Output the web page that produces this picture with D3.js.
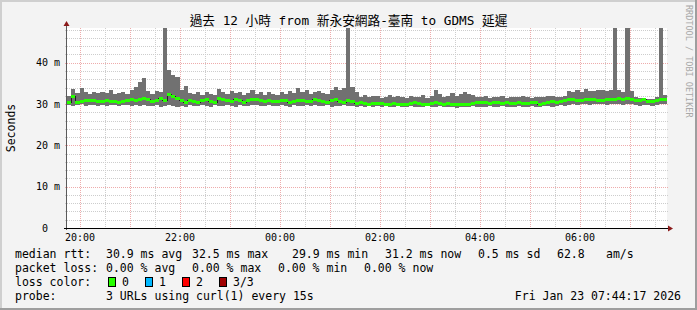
<!DOCTYPE html>
<html>
<head>
<meta charset="utf-8">
<script src="https://cdn.jsdelivr.net/npm/d3@7"></script>
<style>
body { margin: 0; background: #fff; }
svg text { font-family: "DejaVu Sans Mono", "Noto Sans CJK TC", monospace; white-space: pre; }
</style>
</head>
<body>
<div id="chart"></div>
<script>
// ---- data ----
var titleText = "過去 12 小時 from 新永安網路-臺南 to GDMS 延遲";
var yLabel = "Seconds";
var sideText = "RRDTOOL / TOBI OETIKER";
var endTime = new Date(2026, 0, 23, 7, 44, 17);
var stepMinutes = 5;

// median rtt per 5 min step (ms)
var medianMs = [
  30.6, 32.0, 30.4, 30.8, 30.9, 31.0, 30.9, 30.8, 30.8, 30.9, 30.7, 30.7,
  30.6, 30.8, 31.0, 31.1, 30.9, 31.3, 31.5, 31.2, 30.8, 30.9, 31.4, 31.0,
  32.5, 31.9, 31.4, 30.9, 30.6, 31.0, 30.8, 30.5, 30.9, 31.1, 30.7, 30.6,
  31.4, 31.2, 31.0, 30.8, 31.1, 30.9, 30.6, 30.9, 31.2, 31.3, 31.0, 30.8,
  30.9, 30.7, 30.8, 31.0, 30.9, 30.6, 30.8, 30.9, 31.0, 30.7, 30.8, 31.2,
  31.0, 30.8, 30.6, 30.9, 31.1, 30.8, 30.6, 30.9, 30.7, 30.3, 30.4, 30.2,
  30.1, 30.3, 30.2, 30.3, 30.1, 30.0, 30.2, 30.1, 30.0, 30.1, 30.2, 30.4,
  30.3, 30.1, 30.0, 30.2, 30.4, 30.3, 30.1, 30.2, 30.1, 30.0, 29.9, 29.9,
  30.1, 30.3, 30.6, 30.4, 30.5, 30.2, 30.4, 30.5, 30.3, 30.4, 30.2, 30.3,
  30.5, 30.3, 30.2, 30.5, 30.4, 30.1, 30.3, 30.5, 30.7, 30.6, 30.8, 30.9,
  31.1, 31.2, 30.9, 31.0, 31.2, 31.1, 31.3, 30.9, 31.0, 31.2, 31.3, 31.2,
  31.4, 31.3, 31.5, 31.2, 30.9, 31.0, 31.1, 30.8, 30.7, 30.9, 31.1, 31.2
];
// smoke top (ms)
var maxMs = [
  32.0, 33.6, 32.6, 33.8, 32.9, 32.5, 33.0, 32.6, 32.8, 32.7, 33.3, 32.5,
  32.6, 33.0, 32.4, 33.5, 34.1, 35.4, 36.3, 33.2, 32.5, 33.1, 32.8, 49.0,
  38.3, 37.0, 36.5, 33.4, 34.4, 32.6, 32.4, 33.0, 32.3, 32.9, 32.5, 32.2,
  33.6, 32.8, 32.4, 33.2, 32.6, 33.0, 32.1, 32.7, 33.3, 32.4, 32.8, 32.3,
  32.9, 32.5, 32.2, 32.8, 32.4, 33.1, 32.6, 33.9, 32.8, 33.4, 32.5, 33.0,
  33.2, 32.7, 32.4, 33.5, 34.1, 33.4, 33.8, 49.0, 34.1, 33.0, 31.8, 32.2,
  31.7, 31.9, 32.0, 31.5, 31.8, 32.1, 31.6, 31.9, 31.7, 31.5, 32.0, 31.8,
  31.6, 32.2, 31.5, 31.9, 33.4, 32.5, 31.8, 32.0, 32.7, 31.9, 32.4, 32.8,
  32.4, 32.2, 31.8, 31.6, 31.9, 31.5, 31.8, 31.7, 32.0, 31.5, 31.6, 31.8,
  31.7, 31.9, 31.6, 31.5, 31.8, 31.7, 31.6, 31.9, 32.0, 31.7, 31.8, 32.0,
  33.2, 33.0, 33.4, 32.9, 33.6, 33.2, 33.1, 33.5, 33.3, 33.2, 33.4, 49.0,
  33.3, 33.0, 49.0, 33.2, 31.6, 31.4, 31.5, 31.2, 31.3, 31.6, 49.0, 32.2
];
// smoke bottom (ms)
var minMs = [
  29.8, 29.6, 29.7, 29.9, 29.6, 29.8, 29.7, 29.5, 29.8, 29.6, 29.7, 29.8,
  29.6, 29.7, 29.8, 29.5, 29.7, 29.6, 29.8, 29.5, 29.6, 29.7, 29.4, 29.6,
  29.7, 29.5, 29.3, 29.6, 29.4, 29.7, 29.5, 29.6, 29.8, 29.5, 29.4, 29.7,
  29.6, 29.5, 29.8, 29.6, 29.4, 29.7, 29.5, 29.6, 29.8, 29.7, 29.5, 29.6,
  29.7, 29.5, 29.6, 29.8, 29.6, 29.4, 29.7, 29.5, 29.6, 29.7, 29.5, 29.8,
  29.6, 29.5, 29.7, 29.4, 29.6, 29.5, 29.7, 29.6, 29.5, 29.4, 29.5, 29.3,
  29.5, 29.4, 29.6, 29.3, 29.5, 29.4, 29.3, 29.5, 29.2, 29.4, 29.5, 29.3,
  29.4, 29.2, 29.5, 29.3, 29.4, 29.5, 29.2, 29.4, 29.3, 29.1, 29.3, 29.2,
  29.4, 29.5, 29.3, 29.4, 29.2, 29.5, 29.3, 29.4, 29.5, 29.2, 29.4, 29.3,
  29.5, 29.4, 29.2, 29.5, 29.3, 29.4, 29.5, 29.6, 29.4, 29.5, 29.7, 29.6,
  29.8, 30.0, 29.7, 29.9, 30.1, 29.8, 30.0, 29.9, 30.1, 29.8, 30.0, 29.9,
  30.1, 29.8, 30.0, 29.9, 29.7, 29.6, 29.8, 29.7, 29.6, 29.8, 29.9, 30.1
];

var yTicks = [0, 10, 20, 30, 40];
var rttLegend = ["median rtt:", "30.9 ms avg", "32.5 ms max", "29.9 ms min", "31.2 ms now", "0.5 ms sd", "62.8", "am/s"];
var lossLegend = ["packet loss:", "0.00 % avg", "0.00 % max", "0.00 % min", "0.00 % now"];
var lossLabels = ["0", "1", "2", "3/3"];
var lossColors = ["#26ff00", "#00b8ff", "#ff0000", "#a00000"];
var probeLegend = ["probe:", "3 URLs using curl(1) every 15s"];
var dateText = "Fri Jan 23 07:44:17 2026";

// ---- layout ----
var W = 697, H = 310;
var plot = { left: 67, right: 667, top: 28, bottom: 228 };

var svg = d3.select("#chart").append("svg")
  .attr("width", W).attr("height", H)
  .style("display", "block");

// frame
svg.append("rect").attr("width", W).attr("height", H).attr("fill", "#9e9e9e");
svg.append("rect").attr("width", W - 2).attr("height", H - 2).attr("fill", "#cfcfcf");
svg.append("rect").attr("x", 2).attr("y", 2).attr("width", W - 4).attr("height", H - 4).attr("fill", "#f3f3f3");

var startTime = new Date(endTime.getTime() - 12 * 3600 * 1000);
var stepTimes = medianMs.map(function (d, i) {
  return new Date(startTime.getTime() + i * stepMinutes * 60000);
});

var xScale = d3.scaleTime().domain([startTime, endTime]).range([plot.left, plot.right]);
var yScale = d3.scaleLinear().domain([0, 48.4]).range([plot.bottom, plot.top]);

// canvas
svg.append("rect")
  .attr("x", plot.left).attr("y", plot.top)
  .attr("width", plot.right - plot.left).attr("height", plot.bottom - plot.top)
  .attr("fill", "#fff");

svg.append("clipPath").attr("id", "clip").append("rect")
  .attr("x", plot.left).attr("y", plot.top)
  .attr("width", plot.right - plot.left).attr("height", plot.bottom - plot.top);

// grid
var grid = svg.append("g").attr("shape-rendering", "crispEdges");
var minorY = d3.range(2, 48.4, 2).filter(function (v) { return v % 10 !== 0; });
grid.selectAll(".hmin").data(minorY).enter().append("line")
  .attr("x1", plot.left - 2).attr("x2", plot.right + 2)
  .attr("y1", function (d) { return Math.round(yScale(d)) + 0.5; })
  .attr("y2", function (d) { return Math.round(yScale(d)) + 0.5; })
  .attr("stroke", "#cdcdcd").attr("stroke-dasharray", "1,1");
var minorX = d3.timeMinute.every(30).range(startTime, endTime).filter(function (d) { return d.getMinutes() !== 0; });
grid.selectAll(".vmin").data(minorX).enter().append("line")
  .attr("x1", function (d) { return Math.round(xScale(d)) + 0.5; })
  .attr("x2", function (d) { return Math.round(xScale(d)) + 0.5; })
  .attr("y1", plot.top).attr("y2", plot.bottom + 2)
  .attr("stroke", "#cdcdcd").attr("stroke-dasharray", "1,1");
grid.selectAll(".hmaj").data(yTicks.slice(1)).enter().append("line")
  .attr("x1", plot.left - 2).attr("x2", plot.right + 2)
  .attr("y1", function (d) { return Math.round(yScale(d)) + 0.5; })
  .attr("y2", function (d) { return Math.round(yScale(d)) + 0.5; })
  .attr("stroke", "#eeacac").attr("stroke-dasharray", "1,1");
var majorX = d3.timeHour.every(1).range(startTime, endTime);
grid.selectAll(".vmaj").data(majorX).enter().append("line")
  .attr("x1", function (d) { return Math.round(xScale(d)) + 0.5; })
  .attr("x2", function (d) { return Math.round(xScale(d)) + 0.5; })
  .attr("y1", plot.top).attr("y2", plot.bottom + 2)
  .attr("stroke", "#eeacac").attr("stroke-dasharray", "1,1");

// smoke + median
var g = svg.append("g").attr("clip-path", "url(#clip)").attr("shape-rendering", "crispEdges");
function stepEnd(i) {
  return i + 1 < stepTimes.length ? stepTimes[i + 1] : endTime;
}
g.selectAll(".smoke").data(stepTimes).enter().append("rect")
  .attr("x", function (d) { return xScale(d); })
  .attr("width", function (d, i) { return xScale(stepEnd(i)) - xScale(d); })
  .attr("y", function (d, i) { return yScale(maxMs[i]); })
  .attr("height", function (d, i) { return yScale(minMs[i]) - yScale(maxMs[i]); })
  .attr("fill", "#717171");

var pts = stepTimes.map(function (d, i) { return [d, medianMs[i]]; });
pts.push([endTime, medianMs[medianMs.length - 1]]);
g.append("path")
  .attr("d", d3.line().curve(d3.curveStepAfter)
    .x(function (d) { return xScale(d[0]); })
    .y(function (d) { return Math.round(yScale(d[1])) + 0.5; })(pts))
  .attr("fill", "none").attr("stroke", "#202020").attr("stroke-width", 1);

g.selectAll(".med").data(stepTimes).enter().append("rect")
  .attr("x", function (d) { return xScale(d); })
  .attr("width", function (d, i) { return xScale(stepEnd(i)) - xScale(d); })
  .attr("y", function (d, i) { return Math.round(yScale(medianMs[i])) - 1; })
  .attr("height", 3)
  .attr("fill", lossColors[0]);

// axes
var ax = svg.append("g").attr("shape-rendering", "crispEdges");
ax.append("line").attr("x1", plot.left - 0.5).attr("x2", plot.left - 0.5)
  .attr("y1", plot.bottom + 2).attr("y2", plot.top - 4)
  .attr("stroke", "#5a5a5a");
ax.append("line").attr("x1", plot.left - 3).attr("x2", plot.right + 3)
  .attr("y1", plot.bottom + 0.5).attr("y2", plot.bottom + 0.5)
  .attr("stroke", "#000");
svg.append("path")
  .attr("d", "M" + (plot.left - 3.5) + "," + (plot.top - 2) + "L" + (plot.left + 2.5) + "," + (plot.top - 2) + "L" + (plot.left - 0.5) + "," + (plot.top - 7) + "Z")
  .attr("fill", "#8b1a1a");
svg.append("path")
  .attr("d", "M" + (plot.right + 1) + "," + (plot.bottom - 2.5) + "L" + (plot.right + 1) + "," + (plot.bottom + 3.5) + "L" + (plot.right + 6) + "," + (plot.bottom + 0.5) + "Z")
  .attr("fill", "#8b1a1a");

// tick labels
svg.selectAll(".ylab").data(yTicks).enter().append("text")
  .attr("x", 60)
  .attr("y", function (d) { return yScale(d) + 3.5; })
  .attr("text-anchor", "end")
  .style("font-size", "10px")
  .text(function (d) { return d === 0 ? "0  " : d + " m"; });

var labelTimes = d3.timeHour.every(2).range(startTime, endTime);
svg.selectAll(".xlab").data(labelTimes).enter().append("text")
  .attr("x", function (d) { return xScale(d); })
  .attr("y", 241)
  .attr("text-anchor", "middle")
  .style("font-size", "10px")
  .text(d3.timeFormat("%H:%M"));

// title, y label, side text
svg.append("text")
  .attr("x", 348.5).attr("y", 25)
  .attr("text-anchor", "middle")
  .style("font-size", "12.7px")
  .text(titleText);

svg.append("text")
  .attr("transform", "translate(15,128)rotate(-90)")
  .attr("text-anchor", "middle")
  .style("font-size", "11.5px")
  .text(yLabel);

svg.append("text")
  .attr("transform", "translate(686,5)rotate(90)")
  .style("font-size", "8.5px")
  .attr("fill", "#a8a8a8")
  .text(sideText);

// legend
var lg = svg.append("g").style("font-size", "11.5px");
var rttX = [15, 106, 192, 292, 385, 478, 557, 606];
rttLegend.forEach(function (t, i) {
  lg.append("text").attr("x", rttX[i]).attr("y", 257.5).text(t);
});
var lossX = [15, 106, 192, 278, 364];
lossLegend.forEach(function (t, i) {
  lg.append("text").attr("x", lossX[i]).attr("y", 271.5).text(t);
});
lg.append("text").attr("x", 15).attr("y", 285.5).text("loss color:");
var boxX = [108.5, 145.5, 182.5, 219.5];
lossLabels.forEach(function (t, i) {
  lg.append("rect")
    .attr("x", boxX[i]).attr("y", 277.5)
    .attr("width", 7).attr("height", 9)
    .attr("fill", lossColors[i]).attr("stroke", "#000").attr("stroke-width", 1)
    .attr("shape-rendering", "crispEdges");
  lg.append("text").attr("x", boxX[i] + 13.5).attr("y", 285.5).text(t);
});
lg.append("text").attr("x", 15).attr("y", 299.5).text(probeLegend[0]);
lg.append("text").attr("x", 106).attr("y", 299.5).text(probeLegend[1]);
lg.append("text").attr("x", 681).attr("y", 299.5).attr("text-anchor", "end").text(dateText);
</script>
</body>
</html>
